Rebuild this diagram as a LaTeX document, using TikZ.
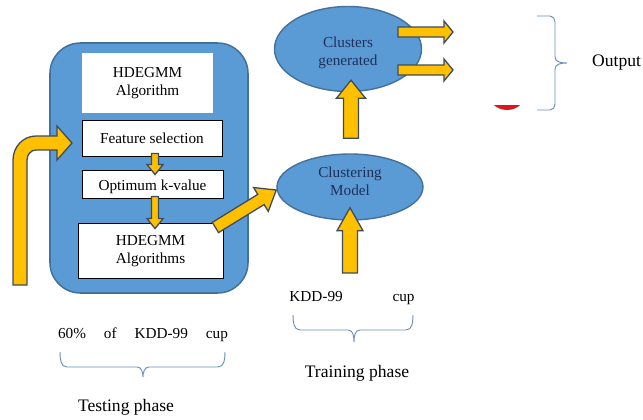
\documentclass[tikz,border=0pt]{standalone}
\usepackage{fontspec}
\setmainfont{Liberation Serif}
\usetikzlibrary{calc,shapes.geometric}
\newcommand\pxu{0.85358pt}
\definecolor{bfill}{HTML}{5B9BD5}
\definecolor{bline}{HTML}{41719C}
\definecolor{afill}{HTML}{FFC000}
\definecolor{aline}{HTML}{3D4B5C}
\definecolor{navy}{HTML}{1F2F5A}
\definecolor{brc}{HTML}{6A8DB8}
\definecolor{redc}{HTML}{D9181E}
\tikzset{
  barrow/.style={fill=afill, draw=aline, line width=1.1pt, line join=miter},
  boxtext/.style={font=\fontsize{13}{15.5}\selectfont, align=center, inner sep=0pt},
  wbox/.style={draw=black, line width=0.7pt, fill=white, inner sep=0pt},
  bellipse/.style={ellipse, fill=bfill, draw=bline, line width=1.2pt, inner sep=0pt},
  lbl/.style={font=\fontsize{15}{18}\selectfont, inner sep=0pt},
  bracestyle/.style={draw=brc, line width=0.8pt},
}
\newcommand\blockarr[5]{%
  \filldraw[barrow] let \p1=(#1), \p2=(#2), \n1={atan2(\y2-\y1,\x2-\x1)}, \n2={veclen(\x2-\x1,\y2-\y1)} in
  {[shift={(\p1)},rotate=\n1] (0pt,-#3*\pxu) -- (\n2-#5*\pxu,-#3*\pxu) -- (\n2-#5*\pxu,-#4*\pxu) -- (\n2,0pt) -- (\n2-#5*\pxu,#4*\pxu) -- (\n2-#5*\pxu,#3*\pxu) -- (0pt,#3*\pxu) -- cycle};}
\begin{document}
\begin{tikzpicture}[x=0.03cm,y=-0.03cm]
\useasboundingbox (0,0) rectangle (643,419);
% hidden red shape and white cover
\fill[redc] (507,90) circle[radius=20];
\fill[white] (453,0) rectangle (552,105);

% outer rounded rectangle
\node[draw=bline, fill=bfill, line width=1.3pt, rounded corners=26pt,
      minimum width=198*\pxu, minimum height=250*\pxu] (outer) at (149,168) {};
\node[fill=white, inner sep=0pt, minimum width=131*\pxu, minimum height=59*\pxu, boxtext] (hdA) at (147.5,83) {HDEGMM\\Algorithm};
\node[wbox, minimum width=140*\pxu, minimum height=36*\pxu] (fs) at (152,138) {};
\node[boxtext] at (fs) {Feature selection};
\node[wbox, minimum width=141*\pxu, minimum height=28*\pxu] (ok) at (152.5,184) {};
\node[boxtext] (okt) at ($(ok)+(0,3)$) {Optimum k-value};
\node[wbox, minimum width=145*\pxu, minimum height=55*\pxu] (hdB) at (150.5,250.5) {};
\node[boxtext] (hdBt) at ($(hdB)+(0,1)$) {HDEGMM\\Algorithms};

% ellipses
\node[bellipse, minimum width=146*\pxu, minimum height=66*\pxu] (cm) at (350,187) {};
\node[boxtext, text=navy] (cmt) at ($(cm)+(0,-6)$) {Clustering\\Model};
\node[bellipse, minimum width=147*\pxu, minimum height=85*\pxu] (cg) at (348,49) {};
\node[boxtext, text=navy] (cgt) at ($(cg)+(0,4)$) {Clusters\\generated};

% free arrow ends
\coordinate (o1s) at (398,32);
\coordinate (o1e) at (453,32);
\coordinate (o2s) at (398,70);
\coordinate (o2e) at (453,70);
\coordinate (kin) at (350,273);

% bent input arrow
\filldraw[barrow] (13,285) -- (13,160) to[out=90,in=180] (36,136) -- (57,136) -- (57,126) -- (72,143) -- (57,160) -- (57,150) -- (36,150) to[out=180,in=90] (27,160) -- (27,285) -- cycle;

% arrows
\blockarr{$(fs.south)+(3,-3)$}{$(ok.north)+(2.5,5)$}{3.5}{8}{10}
\blockarr{$(ok.south)+(2.5,-2)$}{$(hdB.north)+(4.5,6)$}{3.5}{8}{10}
\blockarr{$(hdB.east)+(-8,-23)$}{$(cm.west)+(0,3)$}{6}{14}{18}
\blockarr{kin}{$(cm.south)+(0,-13)$}{7.5}{13}{23}
\blockarr{$(cm.north)+(1,-15)$}{$(cg.south)+(3,-12)$}{7.5}{14.5}{18}
\blockarr{o1s}{o1e}{5}{11}{9}
\blockarr{o2s}{o2e}{5}{11}{9}

% output brace
\draw[bracestyle] (537,16) -- (550,16) to[out=0,in=90] (555,22) -- (555,57) to[out=-90,in=180] (567,63) to[out=180,in=90] (555,69) -- (555,104) to[out=-90,in=0] (550,110) -- (537,110);
\node[lbl, anchor=west] (out) at (592,63) {Output};

% bottom labels
\node[boxtext] (t60) at (143,335) {\makebox[145pt][s]{60\% of KDD-99 cup}};
\draw[bracestyle] (60,352) to[out=-90,in=180] (67,367) -- (137,367) to[out=0,in=90] (143,377) to[out=90,in=180] (149,367) -- (218,367) to[out=0,in=-90] (225,352);
\node[lbl] (test) at (126,407) {Testing phase};

\node[boxtext] (kdd) at (352,298) {\makebox[106.7pt][s]{KDD-99 cup}};
\draw[bracestyle] (293,315) to[out=-90,in=180] (300,330) -- (348,330) to[out=0,in=90] (354,342) to[out=90,in=180] (360,330) -- (406,330) to[out=0,in=-90] (413,315);
\node[lbl] (train) at (357,373) {Training phase};
\end{tikzpicture}
\end{document}
